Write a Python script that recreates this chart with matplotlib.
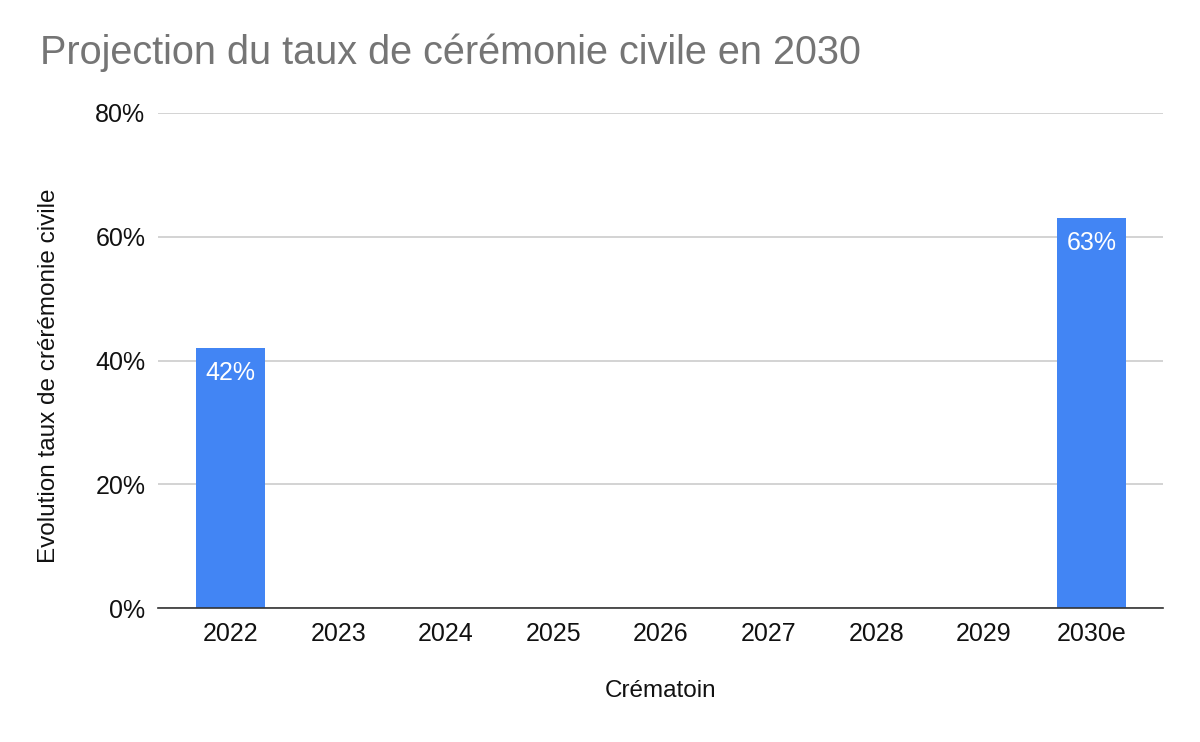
import numpy as np
import matplotlib
matplotlib.use("Agg")
import matplotlib.pyplot as plt
from matplotlib.ticker import FuncFormatter

# données
annees = ['2022', '2023', '2024', '2025', '2026', '2027', '2028', '2029', '2030e']
taux = [42, np.nan, np.nan, np.nan, np.nan, np.nan, np.nan, np.nan, 63]

plt.rcParams['font.family'] = ['Liberation Sans', 'DejaVu Sans']

fig = plt.figure(figsize=(12, 7.42), dpi=100)
ax = fig.add_axes([158 / 1200, 1 - 608 / 742, 1005 / 1200, 495 / 742])

x = np.arange(len(annees))
ax.bar(x, taux, width=0.64, color='#4285F4', zorder=3)

for i, v in enumerate(taux):
    if not np.isnan(v):
        ax.annotate(f'{v:.0f}%', (i, v), xytext=(0, -9), textcoords='offset points',
                    ha='center', va='top', color='white', fontsize=18, zorder=4)

ax.set_xlim(-0.674, 8.665)
ax.set_ylim(0, 80)
ax.set_yticks([0, 20, 40, 60, 80])
ax.yaxis.set_major_formatter(FuncFormatter(lambda v, p: f'{v:.0f}%'))
ax.set_xticks(x)
ax.set_xticklabels(annees)
ax.tick_params(axis='both', length=0, labelsize=18, colors='#111111')
ax.tick_params(axis='y', pad=9)
ax.tick_params(axis='x', pad=10)

ax.grid(axis='y', color='#cccccc', linewidth=1.2, zorder=0)
for s in ['top', 'right', 'left']:
    ax.spines[s].set_visible(False)
ax.spines['bottom'].set_color('#333333')
ax.spines['bottom'].set_linewidth(1.2)
ax.spines['bottom'].set_zorder(5)

ax.set_ylabel('Evolution taux de crérémonie civile', fontsize=17.5, color='#111111')
ax.yaxis.set_label_coords(-0.098, 0.47)
ax.set_xlabel('Crématoin', fontsize=17.5, color='#111111')
ax.xaxis.set_label_coords(0.5, -0.145)

fig.text(40 / 1200, 1 - 33 / 742, 'Projection du taux de cérémonie civile en 2030',
         fontsize=28.5, color='#757575', ha='left', va='top')

fig.savefig('out.png', dpi=100)
